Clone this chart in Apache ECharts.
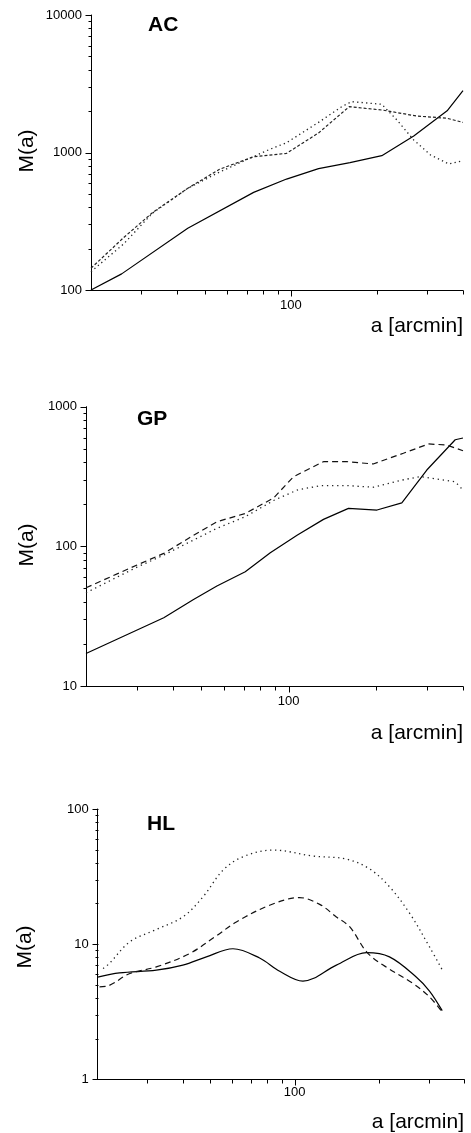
<!DOCTYPE html>
<html>
<head>
<meta charset="utf-8">
<script src="https://cdn.jsdelivr.net/npm/echarts@6/dist/echarts.min.js"></script>
<style>
html,body{margin:0;padding:0;background:#fff;}
#c{width:471px;height:1133px;}
</style>
</head>
<body>
<div id="c"></div>
<script>
// ---------- data ----------
const acSolidX = [20, 25.6, 43.6, 74.1, 96.6, 125, 161, 208, 269, 352, 400];
const acSolidY = [100, 131, 281, 513, 641, 764, 843, 948, 1320, 2010, 2816];
const acDashX = [20, 26.1, 32.8, 43.6, 56.3, 74.1, 96.6, 125, 160, 211, 274, 352, 400];
const acDashY = [144, 242, 365, 549, 755, 932, 986, 1388, 2153, 2030, 1844, 1774, 1655];
const acDotX = [20, 26, 32.8, 43.6, 56.3, 74.1, 84.4, 96.6, 126, 150.6, 163, 208, 235, 269, 308, 357, 400];
const acDotY = [136, 216, 362, 549, 720, 935, 1055, 1178, 1675, 2153, 2343, 2243, 1722, 1233, 959, 825, 871];

const gpSolidX = [20, 37.1, 47, 56.6, 70.9, 86.5, 107, 132, 161, 202, 246, 300, 376, 400];
const gpSolidY = [17.1, 30.8, 41.7, 52, 65.8, 90, 120, 156, 187, 182, 205, 352, 580, 597];
const gpDashX = [20, 30, 37.1, 47, 56.6, 70.9, 88.8, 104, 132, 159, 196, 249, 304, 351, 400];
const gpDashY = [50.5, 73.5, 89, 120, 150, 172, 222, 315, 404, 404, 389, 464, 541, 532, 484];
const gpDotX = [20, 30, 37.1, 47, 56.6, 70.9, 88.8, 107, 128.6, 161, 196, 246, 284, 376, 400];
const gpDotY = [46.5, 71, 86.6, 111, 134.6, 163, 213, 253, 272, 272, 265, 298, 316, 290, 253];

const hlSolidX = [20, 23.9, 32.3, 40.1, 48.6, 60.4, 75.1, 88.5, 107, 140.6, 180, 217, 270, 301, 334];
const hlSolidY = [5.7, 6.13, 6.42, 6.99, 8.05, 9.25, 7.9, 6.3, 5.33, 7.0, 8.65, 8.05, 5.72, 4.5, 3.22];
const hlDashX = [20.3, 22, 26, 32.3, 42.4, 52.7, 62.1, 81.5, 104, 122.7, 140.6, 157, 180, 206, 263, 301, 334];
const hlDashY = [4.83, 4.95, 6.06, 6.79, 8.53, 11.5, 14.6, 19.4, 22.1, 19.7, 15.9, 13.4, 8.77, 7.0, 5.12, 4.07, 3.15];
const hlDotX = [20.9, 22, 26, 32.3, 40.1, 47.3, 55.7, 65.5, 83.7, 116, 152.6, 185, 217, 256, 301, 336];
const hlDotY = [6.6, 7.2, 10.4, 12.85, 15.9, 22.4, 35.3, 44.3, 49.7, 44.9, 42.6, 35.9, 26.6, 16.9, 9.55, 6.31];

// ---------- ticks ----------
const xRange = [20, 400];
const xMajorTicks = [100];
const xMinorTicks = [30, 40, 50, 60, 70, 80, 90, 200, 300, 400];
const acYRange = [100, 10000];
const acYMajor = [100, 1000, 10000];
const acYMinor = [200, 300, 400, 500, 600, 700, 800, 900, 2000, 3000, 4000, 5000, 6000, 7000, 8000, 9000];
const gpYRange = [10, 1000];
const gpYMajor = [10, 100, 1000];
const gpYMinor = [20, 30, 40, 50, 60, 70, 80, 90, 200, 300, 400, 500, 600, 700, 800, 900];
const hlYRange = [1, 100];
const hlYMajor = [1, 10, 100];
const hlYMinor = [2, 3, 4, 5, 6, 7, 8, 9, 20, 30, 40, 50, 60, 70, 80, 90];

const panelTitles = ['AC', 'GP', 'HL'];
const xName = 'a [arcmin]';
const yName = 'M(a)';

// ---------- helpers ----------
const FONT = '"Liberation Sans", Arial, sans-serif';
const zip = (xs, ys) => xs.map((x, i) => [x, ys[i]]);
const isDecade = v => Math.abs(Math.log10(v) - Math.round(Math.log10(v))) < 1e-9;

const grids = [
  {left: 91, top: 15, width: 372, height: 275},
  {left: 86, top: 406.7, width: 377, height: 279.3},
  {left: 97.7, top: 809, width: 366.6, height: 270.3}
];
const yRanges = [acYRange, gpYRange, hlYRange];
const yMajors = [acYMajor, gpYMajor, hlYMajor];
const yMinors = [acYMinor, gpYMinor, hlYMinor];
const xLabelMargins = [9, 9, 7];

const xAxes = grids.map((g, i) => ({
  type: 'log', logBase: 10, gridIndex: i, min: xRange[0], max: xRange[1],
  axisLine: {show: true, lineStyle: {color: '#000', width: 1}},
  axisTick: {show: false}, splitLine: {show: false}, minorTick: {show: false},
  axisLabel: {interval: 0, margin: xLabelMargins[i], color: '#000', fontSize: 13, fontFamily: FONT,
    formatter: v => isDecade(v) ? String(Math.round(v)) : ''}
}));
const yAxes = grids.map((g, i) => ({
  type: 'log', logBase: 10, gridIndex: i, min: yRanges[i][0], max: yRanges[i][1],
  axisLine: {show: true, lineStyle: {color: '#000', width: 1}},
  axisTick: {show: false}, splitLine: {show: false}, minorTick: {show: false},
  axisLabel: {interval: 0, margin: 9, color: '#000', fontSize: 13, fontFamily: FONT,
    formatter: v => isDecade(v) ? String(Math.round(v)) : ''}
}));

function tickSeries(i) {
  const ymin = yRanges[i][0];
  const data = [];
  xMajorTicks.forEach(v => data.push([v, ymin, 6, 0]));
  xMinorTicks.forEach(v => data.push([v, ymin, 4, 0]));
  yMajors[i].forEach(v => data.push([xRange[0], v, 6, 1]));
  yMinors[i].forEach(v => data.push([xRange[0], v, 3, 1]));
  return {
    type: 'custom', xAxisIndex: i, yAxisIndex: i, clip: false, silent: true, z: 5,
    dimensions: ['x', 'y', 'len', 'dir'], encode: {x: 0, y: 1},
    data: data,
    renderItem: (params, api) => {
      const p = api.coord([api.value(0), api.value(1)]);
      const len = api.value(2);
      const dir = api.value(3);
      const x = Math.round(p[0]) + 0.5, y = Math.round(p[1]) + 0.5;
      const shape = dir === 1 ? {x1: x - len, y1: y, x2: x, y2: y} : {x1: x, y1: y, x2: x, y2: y + len};
      return {type: 'line', shape: shape, style: {stroke: '#000', lineWidth: 1}};
    }
  };
}

function lineSeries(i, xs, ys, style, smooth) {
  return {
    type: 'line', xAxisIndex: i, yAxisIndex: i, data: zip(xs, ys),
    symbol: 'none', smooth: smooth ? 0.35 : false, clip: true, silent: true,
    lineStyle: style
  };
}

const solid = {color: '#000', width: 1.2, type: 'solid'};
const series = [
  lineSeries(0, acSolidX, acSolidY, solid, false),
  lineSeries(0, acDashX, acDashY, {color: '#222', width: 1.2, type: [3, 2]}, false),
  lineSeries(0, acDotX, acDotY, {color: '#222', width: 1.3, type: [1.3, 3.2]}, false),
  lineSeries(1, gpSolidX, gpSolidY, solid, false),
  lineSeries(1, gpDashX, gpDashY, {color: '#111', width: 1.2, type: [6, 4]}, false),
  lineSeries(1, gpDotX, gpDotY, {color: '#222', width: 1.3, type: [1.3, 3.8]}, false),
  lineSeries(2, hlSolidX, hlSolidY, solid, true),
  lineSeries(2, hlDashX, hlDashY, {color: '#111', width: 1.2, type: [6, 4]}, true),
  lineSeries(2, hlDotX, hlDotY, {color: '#222', width: 1.3, type: [1.3, 3.6]}, true),
  tickSeries(0), tickSeries(1), tickSeries(2)
];

const titlePos = [[148, 15], [137, 409], [147, 814]];
const yNamePos = [[27, 151], [27, 545], [25, 947]];
const xNamePos = [[463, 326], [463, 733], [464, 1122]];
const graphics = [];
for (let i = 0; i < 3; i++) {
  graphics.push({type: 'text', x: titlePos[i][0], y: titlePos[i][1], silent: true,
    style: {text: panelTitles[i], font: 'bold 21px ' + FONT, fill: '#000', align: 'left', verticalAlign: 'top'}});
  graphics.push({type: 'text', x: yNamePos[i][0], y: yNamePos[i][1], rotation: Math.PI / 2, silent: true,
    style: {text: yName, font: '21px ' + FONT, fill: '#000', align: 'center', verticalAlign: 'middle'}});
  graphics.push({type: 'text', x: xNamePos[i][0], y: xNamePos[i][1], silent: true,
    style: {text: xName, font: '21px ' + FONT, fill: '#000', align: 'right', verticalAlign: 'middle'}});
}

const chart = echarts.init(document.getElementById('c'), null, {renderer: 'canvas'});
chart.setOption({
  animation: false,
  backgroundColor: '#fff',
  grid: grids,
  xAxis: xAxes,
  yAxis: yAxes,
  series: series,
  graphic: graphics
});
</script>
</body>
</html>
